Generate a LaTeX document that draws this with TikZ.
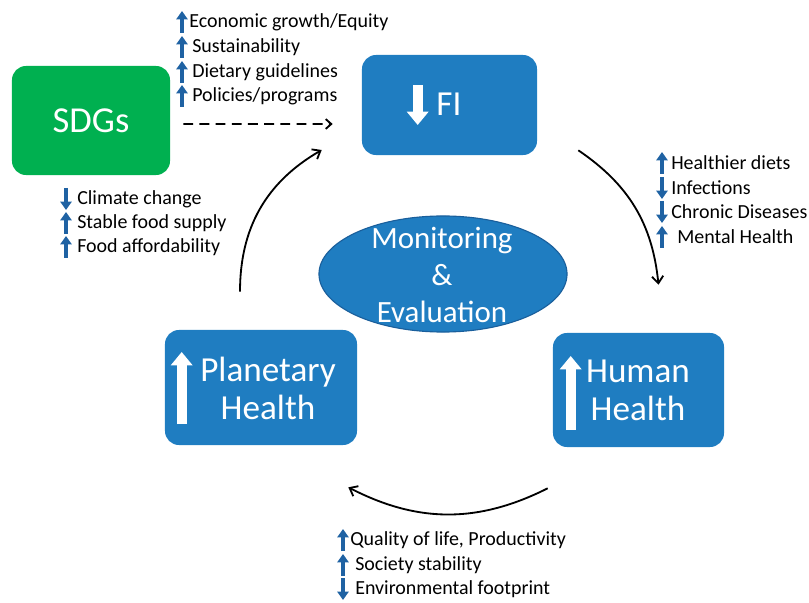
\documentclass[tikz,border=0pt]{standalone}
\usepackage{fontspec}
\setmainfont{Carlito}
\usetikzlibrary{arrows.meta,calc,shapes.geometric}
\definecolor{FoodBlue}{HTML}{1F7DC1}
\definecolor{FoodEdge}{HTML}{1A5F9C}
\definecolor{FoodGreen}{HTML}{00B050}
\definecolor{FoodArrow}{HTML}{1F62A3}

\tikzset{
  box/.style={rounded corners=10pt,inner sep=0pt},
  boxtext/.style={text=white,align=center,font=\fontsize{25}{27}\selectfont},
  item/.style={anchor=west,inner sep=0pt,font=\fontsize{14.2}{17}\selectfont},
  trendup/.style={FoodArrow,line width=3.3pt,-{Triangle[length=6pt,width=8pt]}},
  whitearrow/.style={white,line width=7pt,-{Triangle[length=9.5pt,width=15pt]}},
  loopline/.style={line width=1.3pt,-{Straight Barb[length=5pt,width=8pt]}}
}

\begin{document}
\begin{tikzpicture}[x=0.025cm,y=-0.025cm]
\useasboundingbox (0,0) rectangle (809,603);
% the four boxes and the centre
\node[box,fill=FoodGreen,minimum width=3.95cm,minimum height=2.725cm] (sdg) at (91,120.5) {};
\node[boxtext,font=\fontsize{26}{28}\selectfont] at (sdg) {SDGs};
\node[box,fill=FoodBlue,minimum width=4.375cm,minimum height=2.5cm] (fi) at (449.5,105) {};
\node[boxtext] (fitext) at (449,104) {FI};
\node[box,fill=FoodBlue,minimum width=4.8cm,minimum height=2.875cm] (ph) at (261,387.5) {};
\node[boxtext] (phtext) at (268,388) {Planetary\\Health};
\node[box,fill=FoodBlue,minimum width=4.275cm,minimum height=2.85cm] (hh) at (638.5,390) {};
\node[boxtext] (hhtext) at (638,390) {Human\\Health};
\node[ellipse,fill=FoodBlue,draw=FoodEdge,line width=0.8pt,minimum width=6.2cm,minimum height=2.9cm,inner sep=0pt] (me) at (443,274) {};
\node[boxtext,font=\fontsize{22}{26.5}\selectfont] (metext) at (442,275) {Monitoring\\\&\\Evaluation};
% white arrows in the boxes
\draw[whitearrow] ($(fi.west)+(56,-20)$) -- ($(fi.west)+(56,20)$);
\draw[whitearrow] ($(ph.west)+(17,36.5)$) -- ($(ph.west)+(17,-35.5)$);
\draw[whitearrow] ($(hh.west)+(18,40)$) -- ($(hh.west)+(18,-34)$);
% connectors
\draw[line width=1.3pt,dash pattern=on 7pt off 4.5pt,-{Straight Barb[length=4pt,width=7pt]}] ($(sdg.east)+(13,3.5)$) -- ($(fi.west)+(-29,19)$);
\draw[loopline] ($(fi.south east)+(41,-5)$) to[bend left=25] ($(hh.north)+(20,-48)$);
\draw[loopline] ($(hh.south west)+(-5,41)$) to[bend left=27] ($(ph.south east)+(-9,42)$);
\draw[loopline] ($(ph.north)+(-21,-38)$) to[bend left=30] ($(fi.west)+(-40,45)$);
% top list
\node[item] (t1) at (189,22) {Economic growth/Equity};
\node[item] (t2) at (192,47) {Sustainability};
\node[item] (t3) at (192,72) {Dietary guidelines};
\node[item] (t4) at (192,96) {Policies/programs};
\draw[trendup] (182,33) -- (182,11);
\draw[trendup] (182,58) -- (182,36);
\draw[trendup] (182,83) -- (182,61);
\draw[trendup] (182,107) -- (182,85);
% left list
\node[item] (l1) at (77,199) {Climate change};
\node[item] (l2) at (77,223) {Stable food supply};
\node[item] (l3) at (77,247) {Food affordability};
\draw[trendup] (66,188) -- (66,210);
\draw[trendup] (66,234) -- (66,212);
\draw[trendup] (66,258) -- (66,236);
% right list
\node[item] (r1) at (671,163) {Healthier diets};
\node[item] (r2) at (671,188) {Infections};
\node[item] (r3) at (671,212) {Chronic Diseases};
\node[item] (r4) at (677,237) {Mental Health};
\draw[trendup] (662,174) -- (662,152);
\draw[trendup] (662,177) -- (662,199);
\draw[trendup] (662,201) -- (662,223);
\draw[trendup] (662,248) -- (662,226);
% bottom list
\node[item] (b1) at (350,540) {Quality of life, Productivity};
\node[item] (b2) at (355,565) {Society stability};
\node[item] (b3) at (355,589) {Environmental footprint};
\draw[trendup] (343,551) -- (343,529);
\draw[trendup] (343,576) -- (343,554);
\draw[trendup] (343,578) -- (343,600);
\end{tikzpicture}
\end{document}
